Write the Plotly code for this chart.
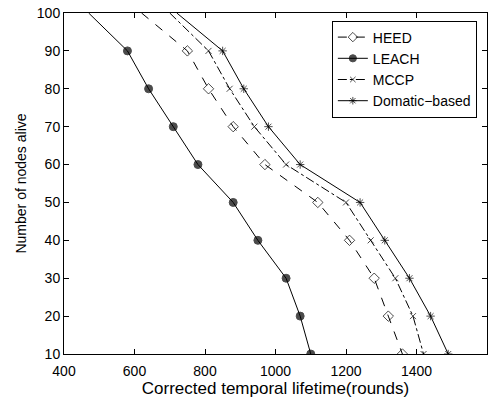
import plotly.graph_objects as go

nodes_alive = [100, 90, 80, 70, 60, 50, 40, 30, 20, 10]
heed = [620, 750, 810, 880, 970, 1120, 1210, 1280, 1320, 1360]
leach = [470, 580, 640, 710, 780, 880, 950, 1030, 1070, 1100]
mccp = [700, 810, 870, 940, 1030, 1200, 1270, 1340, 1390, 1420]
domatic = [720, 850, 910, 980, 1070, 1240, 1310, 1380, 1440, 1490]

x_ticks = [400, 600, 800, 1000, 1200, 1400, 1600]
y_ticks = [10, 20, 30, 40, 50, 60, 70, 80, 90, 100]

FONT = "Liberation Sans, Arial, Helvetica, sans-serif"

fig = go.Figure()

def add(name, xs, dash, symbol, size):
    # the curve starts at 100 nodes without a marker
    sizes = [0 if y == 100 else size for y in nodes_alive]
    fig.add_trace(go.Scatter(
        x=xs, y=nodes_alive, name=name, mode="lines+markers",
        line=dict(color="black", width=1, dash=dash),
        marker=dict(symbol=symbol, size=sizes, color="black",
                    line=dict(color="black", width=1)),
    ))

add("HEED", heed, "dash", "diamond-open", 8)
add("LEACH", leach, "solid", "circle", 8)
add("MCCP", mccp, "dashdot", "x-thin-open", 6)
add("Domatic\u2212based", domatic, "solid", "asterisk-open", 7)

axis_common = dict(
    showgrid=False, zeroline=False, showline=True, linecolor="black",
    linewidth=1, mirror="ticks", ticks="inside", ticklen=5,
    tickcolor="black", tickfont=dict(family=FONT, size=14, color="black"),
    automargin=False,
)

fig.update_xaxes(range=[400, 1600], tickvals=x_ticks, ticklabelstandoff=4,
                 title=dict(text="Corrected temporal lifetime(rounds)",
                            font=dict(family=FONT, size=17, color="black"),
                            standoff=0),
                 **axis_common)
fig.update_yaxes(range=[10, 100], tickvals=y_ticks, ticklabelstandoff=0,
                 title=dict(text="Number of nodes alive",
                            font=dict(family=FONT, size=14, color="black"),
                            standoff=6),
                 **axis_common)

fig.update_layout(
    width=501, height=400,
    margin=dict(l=64, r=14, t=13, b=46),
    paper_bgcolor="white", plot_bgcolor="white",
    font=dict(family=FONT, size=14, color="black"),
    legend=dict(x=0.976, y=0.978, xanchor="right", yanchor="top",
                bordercolor="black", borderwidth=1, bgcolor="white",
                font=dict(family=FONT, size=14, color="black"),
                tracegroupgap=0, itemwidth=30),
    showlegend=True,
)

fig.write_html("out.html")
